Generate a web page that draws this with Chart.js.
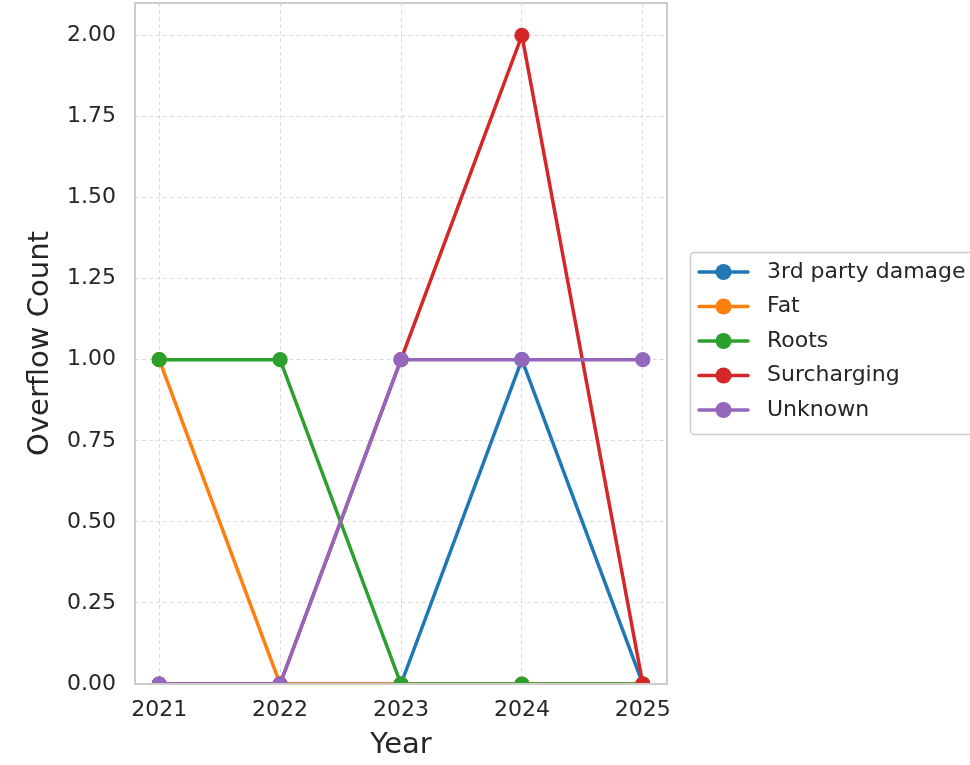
<!DOCTYPE html>
<html>
<head>
<meta charset="utf-8">
<script src="https://cdn.jsdelivr.net/npm/chart.js@4.4.1/dist/chart.umd.min.js"></script>
<style>
  html, body { margin: 0; padding: 0; background: #fff; overflow: hidden; }
  #wrap { width: 970px; height: 765px; position: relative; }
</style>
</head>
<body>
<div id="wrap"><canvas id="c" width="970" height="765"></canvas></div>
<script>
const years = [2021, 2022, 2023, 2024, 2025];
const seriesNames = ["3rd party damage", "Fat", "Roots", "Surcharging", "Unknown"];
const thirdPartyDamage = [0, 0, 0, 1, 0];
const fat = [1, 0, 0, 0, 0];
const roots = [1, 1, 0, 0, 0];
const surcharging = [0, 0, 1, 2, 0];
const unknown = [0, 0, 1, 1, 1];
const seriesColors = ["#1f77b4", "#ff7f0e", "#2ca02c", "#d62728", "#9467bd"];
const yTicks = [0, 0.25, 0.5, 0.75, 1.0, 1.25, 1.5, 1.75, 2.0];

const allSeries = [thirdPartyDamage, fat, roots, surcharging, unknown];
const FONT = "'DejaVu Sans', sans-serif";
const TEXT = "#262626";

const datasets = allSeries.map((vals, i) => ({
  label: seriesNames[i],
  data: years.map((yr, j) => ({ x: yr, y: vals[j] })),
  borderColor: seriesColors[i],
  backgroundColor: seriesColors[i],
  pointBackgroundColor: seriesColors[i],
  pointBorderColor: seriesColors[i],
  borderWidth: 3.5,
  pointRadius: 7,
  pointBorderWidth: 1.2,
  pointHoverRadius: 7,
  tension: 0,
  clip: 0,
  order: allSeries.length - 1 - i
}));

const legendPlugin = {
  id: 'customLegend',
  afterDraw(chart) {
    const ctx = chart.ctx;
    ctx.save();
    const bx = 690.5, by = 252.5, bw = 320, bh = 182, r = 4;
    ctx.beginPath();
    ctx.moveTo(bx + r, by);
    ctx.lineTo(bx + bw - r, by);
    ctx.arcTo(bx + bw, by, bx + bw, by + r, r);
    ctx.lineTo(bx + bw, by + bh - r);
    ctx.arcTo(bx + bw, by + bh, bx + bw - r, by + bh, r);
    ctx.lineTo(bx + r, by + bh);
    ctx.arcTo(bx, by + bh, bx, by + bh - r, r);
    ctx.lineTo(bx, by + r);
    ctx.arcTo(bx, by, bx + r, by, r);
    ctx.closePath();
    ctx.fillStyle = "rgba(255,255,255,0.9)";
    ctx.fill();
    ctx.strokeStyle = "#cccccc";
    ctx.lineWidth = 1.5;
    ctx.stroke();
    chart.data.datasets.forEach((ds, i) => {
      const y = 272 + i * 34.5;
      ctx.strokeStyle = ds.borderColor;
      ctx.lineWidth = 3.5;
      ctx.lineCap = 'round';
      ctx.beginPath();
      ctx.moveTo(699, y);
      ctx.lineTo(748, y);
      ctx.stroke();
      ctx.fillStyle = ds.borderColor;
      ctx.beginPath();
      ctx.arc(723.5, y, 8, 0, Math.PI * 2);
      ctx.fill();
      ctx.fillStyle = TEXT;
      ctx.font = "22px " + FONT;
      ctx.textBaseline = 'middle';
      ctx.textAlign = 'left';
      ctx.fillText(ds.label, 767, y);
    });
    ctx.restore();
  }
};

const framePlugin = {
  id: 'frame',
  afterDatasetsDraw(chart) {
    const a = chart.chartArea;
    const ctx = chart.ctx;
    ctx.save();
    ctx.strokeStyle = "#cccccc";
    ctx.lineWidth = 2;
    ctx.strokeRect(a.left, a.top, a.right - a.left, a.bottom - a.top);
    ctx.restore();
  }
};

new Chart(document.getElementById('c'), {
  type: 'line',
  data: { datasets },
  options: {
    responsive: false,
    animation: false,
    layout: { autoPadding: false, padding: { top: 3, right: 303, left: 0, bottom: 0 } },
    plugins: {
      legend: { display: false },
      tooltip: { enabled: false }
    },
    scales: {
      x: {
        type: 'linear',
        min: 2020.8,
        max: 2025.2,
        afterFit(s) { s.height = 81; s.paddingLeft = 0; s.paddingRight = 0; },
        afterBuildTicks(s) { s.ticks = years.map(v => ({ value: v })); },
        ticks: {
          includeBounds: false,
          padding: 13,
          color: TEXT,
          font: { family: FONT, size: 22 },
          maxRotation: 0,
          autoSkip: false,
          callback: v => String(v)
        },
        grid: { color: "#dcdcdc", lineWidth: 1, drawTicks: false },
        border: { display: false, dash: [4, 3] },
        title: {
          display: true,
          text: 'Year',
          color: TEXT,
          font: { family: FONT, size: 29 },
          padding: { top: 0, bottom: 2 }
        }
      },
      y: {
        type: 'linear',
        min: 0,
        max: 2.1,
        afterFit(s) { s.width = 135; s.paddingTop = 0; s.paddingBottom = 0; },
        afterBuildTicks(s) { s.ticks = yTicks.map(v => ({ value: v })); },
        ticks: {
          includeBounds: false,
          padding: 19,
          color: TEXT,
          font: { family: FONT, size: 22 },
          callback: v => Number(v).toFixed(2)
        },
        grid: { color: "#dcdcdc", lineWidth: 1, drawTicks: false },
        border: { display: false, dash: [4, 3] },
        title: {
          display: true,
          text: 'Overflow Count',
          color: TEXT,
          font: { family: FONT, size: 29 },
          padding: { top: 23, bottom: 0 }
        }
      }
    }
  },
  plugins: [framePlugin, legendPlugin]
});
</script>
</body>
</html>
